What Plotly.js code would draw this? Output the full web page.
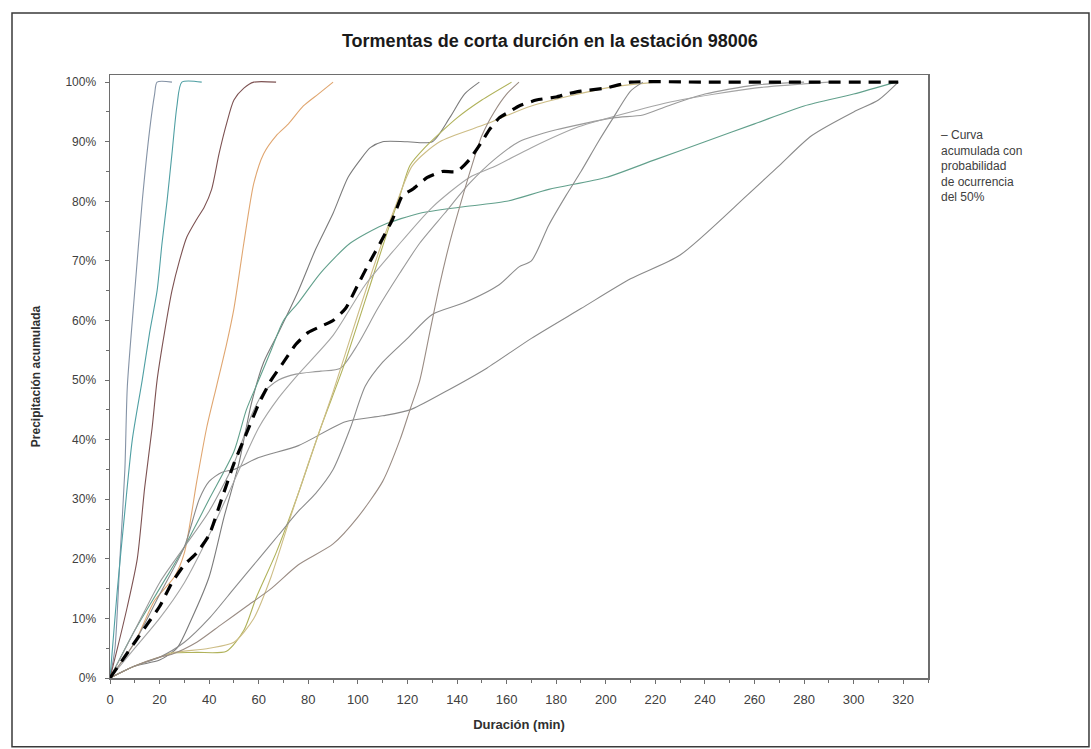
<!DOCTYPE html>
<html>
<head>
<meta charset="utf-8">
<script src="https://cdn.plot.ly/plotly-3.0.1.min.js"></script>
<style>
html,body{margin:0;padding:0;background:#fff;}
#chart{width:1091px;height:749px;}
</style>
</head>
<body>
<div id="chart"></div>
<script>
// Duración (min) and precipitación acumulada (%) for each storm
const stormA_x = [0,2,4,6,7,10,13,16,18,19,25];
const stormA_y = [0,5,20,35,49,65,80,92,98,100,100];
const stormB_x = [0,1,3,6,9,13,16,19,21,23,25,27,29,37];
const stormB_y = [0,5,15,28,40,50,58,65,73,80,88,96,100,100];
const stormC_x = [0,3,7,11,14,17,19,22,25,28,31,35,38,41,44,47,50,54,58,67];
const stormC_y = [0,5,12,20,32,42,50,58,65,70,74,77,79,82,88,93,97,99,100,100];
const stormD_x = [0,10,18,26,30,35,39,43,47,50,54,58,62,67,72,78,84,90];
const stormD_y = [0,6,13,17,21,33,42,49,56,62,73,83,88,91,93,96,98,100];
const stormE_x = [0,10,20,27,33,40,46,52,57,62,68,76,83,90,96,101,105,110,120,130,137,143,149];
const stormE_y = [0,2,3,5,10,17,27,36,46,53,58,65,72,78,84,87,89,90,90,90,94,98,100];
const stormF_x = [0,10,20,30,40,50,55,60,65,70,76,85,97,110,125,141,160,177,200,220,240,260,280,300,317];
const stormF_y = [0,8,15,22,30,38,45,50,55,60,63,68,73,76,78,79,80,82,84,87,90,93,96,98,100];
const stormG_x = [0,10,20,30,40,50,57,62,68,75,85,93,100,108,117,125,135,145,155,165,180,203,215,225,240,260,280];
const stormG_y = [0,8,16,22,28,36,44,48,50,51,51.5,52,56,62,68,73,78,83,87,90,92,94,94.5,96,98,99.5,100];
const stormH_x = [0,10,20,30,36,40,45,50,60,76,95,110,121,135,152,170,190,210,230,257,270,283,300,310,318];
const stormH_y = [0,6,14,22,30,33,34.5,35,37,39,43,44,45,48,52,57,62,67,71,81,86,91,95,97,100];
const stormI_x = [0,10,20,25,35,47,54,59,67,76,85,94,105,112,117,121,127,140,150,162];
const stormI_y = [0,2,3.5,4.2,4.3,4.5,8,13.5,21,31,42,52,66,75,81,86,89,94,97,100];
const stormJ_x = [0,10,20,25,40,50,58,65,72,80,90,100,108,115,122,133,152,170,200,220];
const stormJ_y = [0,2,3.5,4.2,5,6,10,17,26,36,48,61,71,79,86,90,93,96,99,100];
const stormK_x = [0,10,20,30,40,50,60,68,76,90,103,115,130,145,156,170,189,210,230,260,290];
const stormK_y = [0,5,10,16,24,33,42,47,51,57.5,66,72,79,84,86,89,92.5,95,97,99,100];
const stormL_x = [0,10,20,30,40,50,60,68,76,83,90,97,103,110,120,130,143,157,165,170,177,184,190,197,203,210,215];
const stormL_y = [0,2,3.5,6,10,15,20,24,28,31,35,42,49,53,57,61,63,66,69,70,76,81,85,90,94,98.5,100];
const stormM_x = [0,10,20,25,35,45,55,65,76,90,100,110,117,121,125,129,133,137,141,146,150,155,160,165];
const stormM_y = [0,2,3.5,4,6,9,12,15,19,22.5,27,33,40,45,50,58,66,73,79,86,91,95,98,100];
// Curva acumulada con probabilidad de ocurrencia del 50%
const median_x = [0,5,10,15,20,25,30,35,40,45,50,55,60,65,70,75,80,85,90,95,100,105,109,114,118,122,128,134,140,145,150,153,157,161,165,172,180,184,190,200,210,240,280,318];
const median_y = [0,3,6,9,12,16,19,21,24,30,36,41,46,50,53,56,58,59,60,62,66,70,73,77,81,82,84,85,85,87,90,92,94,95,96,97,97.5,98,98.5,99,100,100,100,100];

const xTicks = [0,20,40,60,80,100,120,140,160,180,200,220,240,260,280,300,320];
const yTicks = [0,10,20,30,40,50,60,70,80,90,100];

const storms = [
  [stormA_x, stormA_y, '#8593a6'],
  [stormB_x, stormB_y, '#4f9fa3'],
  [stormC_x, stormC_y, '#7d5252'],
  [stormD_x, stormD_y, '#e0a670'],
  [stormE_x, stormE_y, '#7b7b7b'],
  [stormF_x, stormF_y, '#62a08c'],
  [stormG_x, stormG_y, '#9a9a9a'],
  [stormH_x, stormH_y, '#8a8a8a'],
  [stormI_x, stormI_y, '#b0b25a'],
  [stormJ_x, stormJ_y, '#cdbd86'],
  [stormK_x, stormK_y, '#a5a5a5'],
  [stormL_x, stormL_y, '#8c8c8c'],
  [stormM_x, stormM_y, '#9a8c84']
];

const traces = storms.map((s, i) => ({
  x: s[0], y: s[1], type: 'scatter', mode: 'lines',
  line: {color: s[2], width: 1.1, shape: 'spline', smoothing: 0.7},
  showlegend: false, hoverinfo: 'skip'
}));
traces.push({
  x: median_x, y: median_y, type: 'scatter', mode: 'lines',
  name: 'Curva acumulada con probabilidad de ocurrencia del 50%',
  line: {color: '#000000', width: 3.2, dash: '12px,8px', shape: 'spline', smoothing: 0.5},
  showlegend: false
});

const FONT = '"Liberation Sans Narrow", "Liberation Sans", Arial, sans-serif';

const layout = {
  width: 1091, height: 749,
  margin: {l: 110, r: 163, t: 75, b: 71},
  paper_bgcolor: '#ffffff', plot_bgcolor: '#ffffff',
  font: {family: FONT, size: 12, color: '#404040'},
  title: {
    text: 'Tormentas de corta durción en la estación 98006',
    font: {family: FONT, size: 18, color: '#1a1a1a', weight: 'bold'},
    xref: 'container', x: 0.504, xanchor: 'center',
    yref: 'container', y: 0.945, yanchor: 'middle'
  },
  xaxis: {
    range: [0, 330], tickvals: xTicks, ticktext: xTicks.map(String),
    showgrid: false, zeroline: false,
    showline: true, linecolor: '#6e6e6e', linewidth: 1.5, mirror: true,
    ticks: 'outside', ticklen: 4, tickcolor: '#6e6e6e',
    minor: {dtick: 10, ticks: 'outside', ticklen: 3, tickcolor: '#6e6e6e'},
    tickfont: {family: FONT, size: 13, color: '#404040'},
    ticklabelstandoff: 5,
    title: {text: '<b>Duración (min)</b>', font: {family: FONT, size: 13, color: '#303030'}, standoff: 14}
  },
  yaxis: {
    range: [0, 101.2], tickvals: yTicks, ticktext: yTicks.map(v => v + '%'),
    showgrid: false, zeroline: false,
    showline: true, linecolor: '#6e6e6e', linewidth: 1.5, mirror: true,
    ticks: 'outside', ticklen: 4, tickcolor: '#6e6e6e',
    minor: {dtick: 5, ticks: 'outside', ticklen: 3, tickcolor: '#6e6e6e'},
    tickfont: {family: FONT, size: 12, color: '#404040'},
    ticklabelstandoff: 6,
    title: {text: '<b>Precipitación acumulada</b>', font: {family: FONT, size: 12, color: '#303030'}, standoff: 22}
  },
  shapes: [{
    type: 'rect', xref: 'paper', yref: 'paper',
    x0: -0.1198, x1: 1.1968, y0: -0.114, y1: 1.1028,
    line: {color: '#3a3a3a', width: 1.5}, fillcolor: 'rgba(0,0,0,0)', layer: 'below'
  }],
  annotations: [{
    xref: 'paper', yref: 'paper', x: 1.0135, y: 0.915, xanchor: 'left', yanchor: 'top',
    align: 'left', showarrow: false,
    text: '– Curva<br>acumulada con<br>probabilidad<br>de ocurrencia<br>del 50%',
    font: {family: FONT, size: 12, color: '#404040'}
  }]
};

Plotly.newPlot('chart', traces, layout, {displayModeBar: false, staticPlot: true});
</script>
</body>
</html>
